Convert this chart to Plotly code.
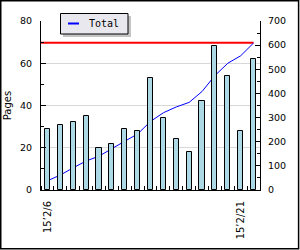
import plotly.graph_objects as go

dates = ["15’2/6", "15’2/7", "15’2/8", "15’2/9", "15’2/10", "15’2/11", "15’2/12", "15’2/13",
         "15’2/14", "15’2/15", "15’2/16", "15’2/17", "15’2/18", "15’2/19", "15’2/20", "15’2/21", "15’2/22"]
pages = [29, 31, 32, 35, 20, 22, 29, 28, 53, 34, 24, 18, 42, 68, 54, 28, 62]
total = [38, 62, 92, 120, 140, 172, 202, 232, 284, 320, 344, 363, 408, 474, 525, 556, 609]
target = 610
shown_labels = ["15’2/6", "15’2/21"]

W, H = 300, 250
L, R, T, B = 41, 40, 21, 60
pw, ph = W - L - R, H - T - B

def px(x):
    return (x - L) / pw

def py(y):
    return (H - B - y) / ph

idx = list(range(len(dates)))
label_idx = [dates.index(s) for s in shown_labels]

fig = go.Figure()
fig.add_trace(go.Scatter(x=[idx[0] - 0.5, idx[-1]], y=[target, target], mode="lines",
                         line=dict(color="#ff0000", width=2), showlegend=False, yaxis="y"))
fig.add_trace(go.Scatter(x=idx, y=total, mode="lines", name="Total",
                         line=dict(color="#0000ff", width=1), showlegend=False, yaxis="y"))
fig.add_trace(go.Bar(x=idx, y=pages, width=0.4, marker=dict(color="#add8e6", line=dict(color="black", width=1)),
                     showlegend=False, yaxis="y2"))

tickfont = dict(family="DejaVu Sans", size=9.5, color="black")

fig.update_layout(
    width=W, height=H,
    margin=dict(l=L, r=R, t=T, b=B, pad=0, autoexpand=False),
    paper_bgcolor="white", plot_bgcolor="white",
    bargap=0,
    xaxis=dict(range=[-0.5, len(dates) - 0.5], tickmode="array", tickvals=label_idx, automargin=False,
               ticktext=shown_labels, tickangle=-90, ticks="", tickfont=dict(family="DejaVu Sans", size=10, color="black"),
               showline=True, linecolor="black", linewidth=1, showgrid=False, zeroline=False,
               ticklabelstandoff=6,
               minor=dict(tickmode="linear", tick0=-0.5, dtick=1, ticks="inside", ticklen=4, tickcolor="black", showgrid=False)),
    yaxis=dict(side="right", range=[0, 700], tickmode="linear", tick0=0, dtick=100, ticks="inside", ticklen=5,
               tickcolor="black", tickfont=tickfont, showline=True, linecolor="black", linewidth=1,
               showgrid=False, zeroline=False, ticklabelstandoff=5, automargin=False,
               minor=dict(dtick=50, ticks="inside", ticklen=3, tickcolor="black", showgrid=False)),
    yaxis2=dict(side="left", overlaying="y", range=[0, 80], tickmode="linear", tick0=0, dtick=20, ticks="inside",
                ticklen=5, tickcolor="black", tickfont=tickfont, showline=True, linecolor="black", linewidth=1,
                showgrid=True, gridcolor="#d8d8d8", gridwidth=1, zeroline=False, ticklabelstandoff=6, automargin=False,
                title=dict(text="Pages", font=dict(family="DejaVu Sans", size=10, color="black"), standoff=6),
                minor=dict(dtick=10, ticks="inside", ticklen=3, tickcolor="black", showgrid=False)),
    shapes=[
        dict(type="rect", xref="paper", yref="paper", x0=px(0.75), x1=px(298.6), y0=py(248.8), y1=py(0.75),
             line=dict(color="black", width=1.5), fillcolor="rgba(0,0,0,0)", layer="above"),
        dict(type="rect", xref="paper", yref="paper", x0=px(63), x1=px(131), y0=py(37), y1=py(16),
             line=dict(width=0), fillcolor="#c4c4c4", layer="above"),
        dict(type="rect", xref="paper", yref="paper", x0=px(60.5), x1=px(128), y0=py(34), y1=py(13.5),
             line=dict(color="black", width=1), fillcolor="#e9e8ef", layer="above"),
        dict(type="line", xref="paper", yref="paper", x0=px(68), x1=px(79), y0=py(23.5), y1=py(23.5),
             line=dict(color="#0000ff", width=2), layer="above"),
    ],
    annotations=[
        dict(text="Total", xref="paper", yref="paper", x=px(87), y=py(23.5), xanchor="left", yanchor="middle",
             showarrow=False, font=dict(family="DejaVu Sans Mono", size=10, color="black")),
    ],
)

fig.write_html("out.html")
